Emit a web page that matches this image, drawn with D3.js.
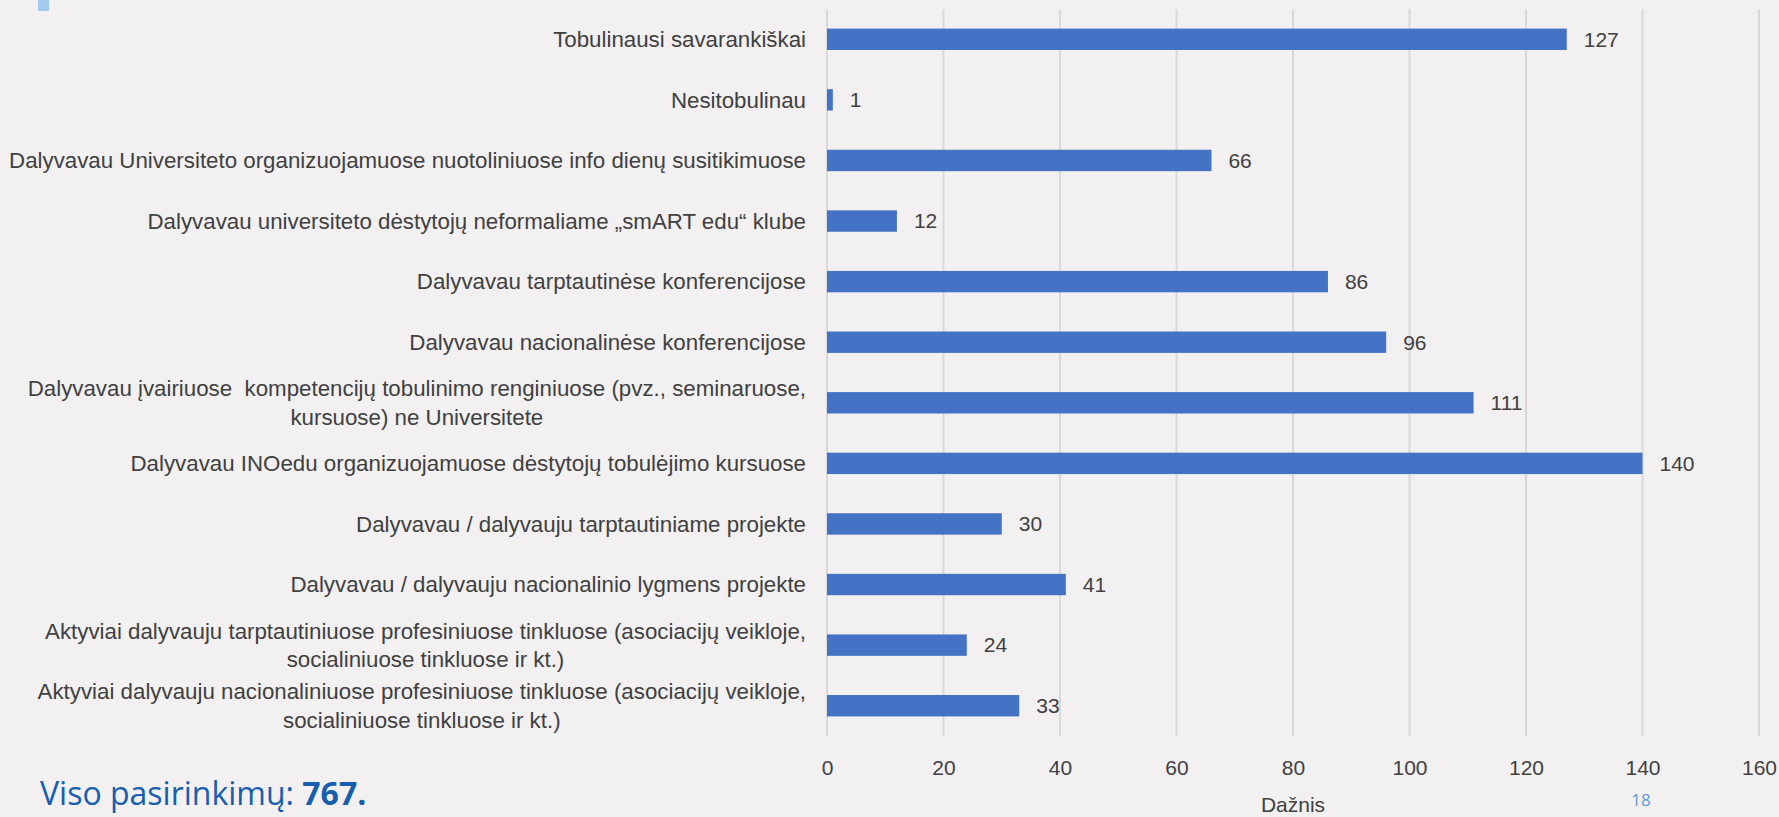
<!DOCTYPE html>
<html>
<head>
<meta charset="utf-8">
<script src="https://cdn.jsdelivr.net/npm/d3@7"></script>
<style>
  body { margin: 0; background: #f2f0f1; }
  svg { display: block; }
  .lab { font-family: "Liberation Sans", Arial, sans-serif; fill: #404040; white-space: pre; }
</style>
</head>
<body>
<svg id="chart" width="1779" height="817"></svg>
<script>
// categories top to bottom, "\n" marks a forced line break
var categories = [
  "Tobulinausi savarankiškai",
  "Nesitobulinau",
  "Dalyvavau Universiteto organizuojamuose nuotoliniuose info dienų susitikimuose",
  "Dalyvavau universiteto dėstytojų neformaliame „smART edu“ klube",
  "Dalyvavau tarptautinėse konferencijose",
  "Dalyvavau nacionalinėse konferencijose",
  "Dalyvavau įvairiuose  kompetencijų tobulinimo renginiuose (pvz., seminaruose,\nkursuose) ne Universitete",
  "Dalyvavau INOedu organizuojamuose dėstytojų tobulėjimo kursuose",
  "Dalyvavau / dalyvauju tarptautiniame projekte",
  "Dalyvavau / dalyvauju nacionalinio lygmens projekte",
  "Aktyviai dalyvauju tarptautiniuose profesiniuose tinkluose (asociacijų veikloje,\nsocialiniuose tinkluose ir kt.)",
  "Aktyviai dalyvauju nacionaliniuose profesiniuose tinkluose (asociacijų veikloje,\nsocialiniuose tinkluose ir kt.)"
];
var values = [127, 1, 66, 12, 86, 96, 111, 140, 30, 41, 24, 33];
var xTicks = [0, 20, 40, 60, 80, 100, 120, 140, 160];
var axisTitle = "Dažnis";
var totalLabel = "Viso pasirinkimų: ";
var totalValue = "767.";
var pageNumber = "18";

var svg = d3.select("#chart"),
    margin = {top: 9, right: 20, bottom: 81, left: 827},
    width = 1759 - margin.left,
    height = 817 - margin.top - margin.bottom,
    g = svg.append("g").attr("transform", "translate(" + margin.left + "," + margin.top + ")");

var fs = 21, labFs = 22.3;

var x = d3.scaleLinear().domain([0, 160]).range([0, width]);
var y = d3.scaleBand().domain(categories).range([0, height]).paddingInner(0.647).paddingOuter(0.3235);

// little accent square top-left
svg.append("rect").attr("x", 38).attr("y", 0).attr("width", 11).attr("height", 11).attr("fill", "#a3c9ec");

// gridlines
g.selectAll(".grid").data(xTicks).enter().append("line")
  .attr("x1", function(d) { return x(d); })
  .attr("x2", function(d) { return x(d); })
  .attr("y1", 0).attr("y2", height)
  .attr("stroke", "#d9d9d9").attr("stroke-width", 2);

// x axis labels
var xAxis = g.append("g")
  .attr("transform", "translate(0," + height + ")")
  .call(d3.axisBottom(x).tickValues(xTicks).tickSize(0).tickPadding(24));
xAxis.select(".domain").remove();
xAxis.selectAll("text").attr("class", "lab").style("font-size", fs + "px").attr("fill", "#595959");

svg.append("text").attr("class", "lab")
  .attr("x", margin.left + x(80)).attr("y", 812)
  .attr("text-anchor", "middle").style("font-size", fs + "px").attr("fill", "#595959")
  .text(axisTitle);

// bars
g.selectAll(".bar").data(values).enter().append("rect")
  .attr("x", x(0))
  .attr("y", function(d, i) { return y(categories[i]); })
  .attr("width", function(d) { return x(d) - x(0); })
  .attr("height", y.bandwidth())
  .attr("fill", "#4472c4");

// value labels
g.selectAll(".val").data(values).enter().append("text")
  .attr("class", "lab")
  .attr("x", function(d) { return x(d) + 17; })
  .attr("y", function(d, i) { return y(categories[i]) + y.bandwidth() / 2; })
  .attr("dy", "0.35em")
  .style("font-size", fs + "px")
  .text(function(d) { return d; });

// category labels, right aligned block, lines centered on each other
var labelRight = 806;
categories.forEach(function(c) {
  var lines = c.split("\n");
  var cy = margin.top + y(c) + y.bandwidth() / 2;
  var t = svg.append("text").attr("class", "lab").style("font-size", labFs + "px");
  var lh = 28.4;
  lines.forEach(function(l, i) {
    t.append("tspan").attr("y", cy + (i - (lines.length - 1) / 2) * lh).attr("dy", "0.35em").text(l);
  });
  var w = 0;
  t.selectAll("tspan").each(function() { w = Math.max(w, this.getComputedTextLength()); });
  t.attr("text-anchor", "middle").selectAll("tspan").attr("x", labelRight - w / 2);
});

// total
var tot = svg.append("text").attr("x", 40).attr("y", 805)
  .style("font-family", "'Open Sans', sans-serif").style("font-size", "32px").attr("fill", "#175fae");
tot.append("tspan").text(totalLabel);
tot.append("tspan").style("font-weight", "bold").text(totalValue);

svg.append("text").attr("x", 1641).attr("y", 806).attr("text-anchor", "middle")
  .style("font-family", "'Open Sans', sans-serif").style("font-size", "17px").attr("fill", "#5b9bd5")
  .text(pageNumber);
</script>
</body>
</html>
